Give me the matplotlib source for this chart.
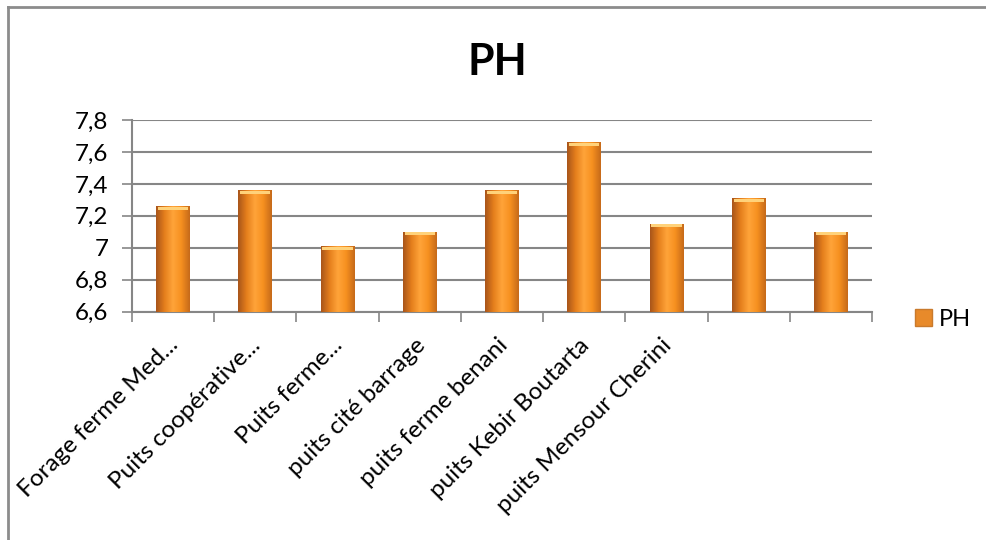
import matplotlib
matplotlib.use("Agg")
import matplotlib.pyplot as plt
import numpy as np
from matplotlib.colors import LinearSegmentedColormap
from matplotlib.lines import Line2D
from matplotlib.patches import Patch
from matplotlib.transforms import ScaledTranslation

# data
sites = [
    "Forage ferme Med...",
    "Puits coopérative...",
    "Puits ferme...",
    "puits cité barrage",
    "puits ferme benani",
    "puits Kebir Boutarta",
    "puits Mensour Cherini",
    "",
    "",
]
ph_values = [7.26, 7.36, 7.01, 7.10, 7.36, 7.66, 7.15, 7.31, 7.10]
y_ticks = [6.6, 6.8, 7.0, 7.2, 7.4, 7.6, 7.8]
y_labels = ["6,6", "6,8", "7", "7,2", "7,4", "7,6", "7,8"]

plt.rcParams["font.family"] = ["Lato", "DejaVu Sans"]

fig = plt.figure(figsize=(9.87, 5.4), dpi=100)
ax = fig.add_axes([0.1337, 0.4228, 0.7498, 0.355])

x = np.arange(len(sites))
bars = ax.bar(x, ph_values, width=0.41, color="#F28C1E",
              edgecolor="none", zorder=3)

# horizontal shading inside each bar: dark edges, bright middle
shade = LinearSegmentedColormap.from_list(
    "bar", ["#A9551A", "#E57F1C", "#FFA43A", "#F6901F", "#C66A1A"])
grad = np.linspace(0, 1, 64).reshape(1, -1)
for b in bars:
    bx, bw, bh = b.get_x(), b.get_width(), b.get_height()
    im = ax.imshow(grad, cmap=shade, aspect="auto", zorder=4,
                   extent=[bx, bx + bw, 6.6, bh], interpolation="bicubic")
    im.set_clip_path(b)
    # light cap on top of the bar
    ax.bar(bx + bw / 2, 0.018, width=bw * 0.9, bottom=bh - 0.022,
           color="#FFD27A", edgecolor="none", zorder=5)

ax.set_xlim(-0.5, len(sites) - 0.5)
ax.set_ylim(6.6, 7.8)
ax.set_yticks(y_ticks)
ax.set_yticklabels(y_labels, fontsize=17.5)
ax.set_xticks(x)
ax.set_xticklabels(sites, fontsize=17.5, rotation=45, ha="right",
                   va="center", rotation_mode="anchor")
ax.tick_params(axis="x", length=0, pad=8)
ax.set_xticks(np.arange(len(sites) + 1) - 0.5, minor=True)
ax.tick_params(axis="x", which="minor", length=7, color="#868686", width=1.2)
ax.tick_params(axis="y", length=7, color="#868686", width=1.2, pad=10)

# nudge the rotated labels down (after tick_params, which resets transforms)
shift = ScaledTranslation(2 / 100, -19 / 100, fig.dpi_scale_trans)
for lab in ax.get_xticklabels():
    lab.set_transform(lab.get_transform() + shift)

ax.grid(axis="y", color="#868686", linewidth=1.5, zorder=1)
for s in ["top", "right"]:
    ax.spines[s].set_visible(False)
ax.spines["left"].set_color("#868686")
ax.spines["bottom"].set_color("#868686")
ax.spines["left"].set_linewidth(1.5)
ax.spines["bottom"].set_linewidth(1.5)

fig.text(0.504, 0.885, "PH", fontsize=31, fontweight="bold", ha="center",
         va="center")

ax.legend(handles=[Patch(facecolor="#E88A2A", edgecolor="#C97A2C", label="PH")],
          loc="center left", bbox_to_anchor=(1.03, -0.04), frameon=False,
          fontsize=17, handlelength=0.7, handleheight=0.7, handletextpad=0.3)

# chart border (top and left only are visible in the reference)
fig.add_artist(Line2D([0.008, 1.0], [0.987, 0.987], color="#8C8C8C", lw=2))
fig.add_artist(Line2D([0.008, 0.008], [0.0, 0.987], color="#8C8C8C", lw=2))

fig.savefig("out.png", dpi=100)
